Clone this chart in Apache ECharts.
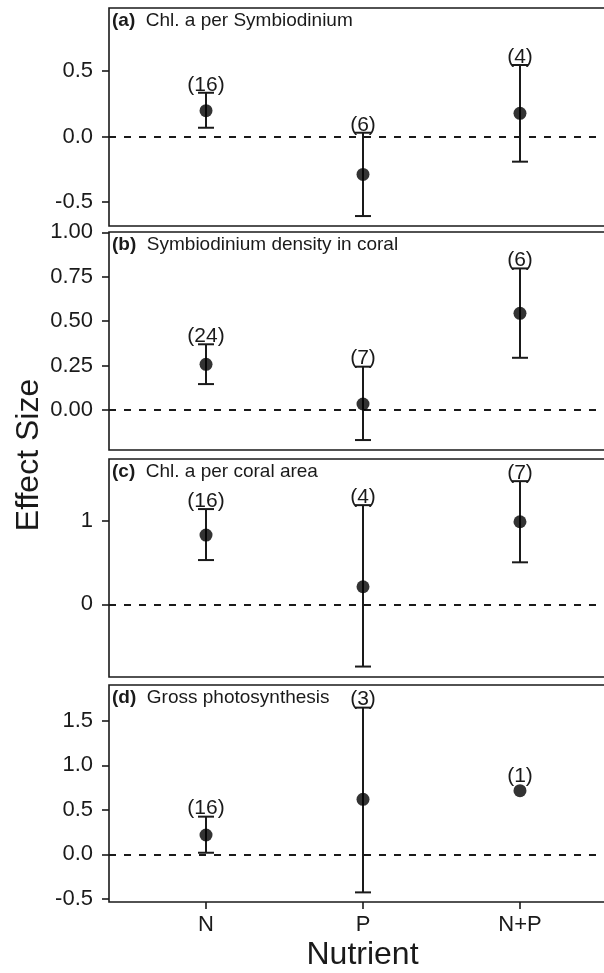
<!DOCTYPE html>
<html>
<head>
<meta charset="utf-8">
<script src="https://cdn.jsdelivr.net/npm/echarts@6/dist/echarts.min.js"></script>
<style>
  html, body { margin: 0; padding: 0; background: #ffffff; }
  #chart { width: 604px; height: 973px; }
</style>
</head>
<body>
<div id="chart"></div>
<script>
// ---------- data ----------
const categories = ['N', 'P', 'N+P'];
const categoryPos = [1, 2, 3];

const panelTags = ['(a)', '(b)', '(c)', '(d)'];
const panelNames = ['Chl. a per Symbiodinium', 'Symbiodinium density in coral', 'Chl. a per coral area', 'Gross photosynthesis'];

const meanA = [0.197, -0.289, 0.177];
const lowA  = [0.067, -0.607, -0.192];
const highA = [0.334, 0.029, 0.546];
const nA    = [16, 6, 4];

const meanB = [0.257, 0.034, 0.544];
const lowB  = [0.146, -0.169, 0.294];
const highB = [0.370, 0.244, 0.797];
const nB    = [24, 7, 6];

const meanC = [0.828, 0.210, 0.987];
const lowC  = [0.529, -0.745, 0.502];
const highC = [1.139, 1.186, 1.473];
const nC    = [16, 4, 7];

const meanD = [0.217, 0.618, 0.715];
const lowD  = [0.018, -0.427, null];
const highD = [0.423, 1.647, null];
const nD    = [16, 3, 1];

const yTicksA = [-0.5, 0, 0.5];
const yTicksB = [0, 0.25, 0.5, 0.75, 1.0];
const yTicksC = [0, 1];
const yTicksD = [-0.5, 0, 0.5, 1.0, 1.5];

// ---------- layout / style ----------
const FONT = '"Liberation Sans", Arial, Helvetica, sans-serif';
const INK = '#1a1a1a';
const gridLeft = 109, gridWidth = 508;
const panels = [
  { top: 8,   height: 218, min: -0.683, max: 0.981, ticks: yTicksA, dec: 1, mean: meanA, low: lowA, high: highA, n: nA },
  { top: 232, height: 218, min: -0.225, max: 1.002, ticks: yTicksB, dec: 2, mean: meanB, low: lowB, high: highB, n: nB },
  { top: 459, height: 218, min: -0.870, max: 1.738, ticks: yTicksC, dec: 0, mean: meanC, low: lowC, high: highC, n: nC },
  { top: 685, height: 217, min: -0.535, max: 1.901, ticks: yTicksD, dec: 1, mean: meanD, low: lowD, high: highD, n: nD }
];

const grid = [], xAxis = [], yAxis = [], series = [], graphic = [];

panels.forEach((p, i) => {
  const last = i === panels.length - 1;
  grid.push({
    left: gridLeft, top: p.top, width: gridWidth, height: p.height,
    outerBoundsMode: 'none', containLabel: false,
    show: true, borderColor: INK, borderWidth: 1.6, backgroundColor: 'transparent'
  });
  xAxis.push({
    type: 'value', gridIndex: i, min: 0.382, max: 3.618, position: 'bottom',
    show: last,
    splitLine: { show: false },
    axisLine: { show: false, onZero: false },
    axisTick: { show: last, customValues: categoryPos, length: 7, lineStyle: { color: INK, width: 1.6 } },
    axisLabel: {
      show: last, customValues: categoryPos, margin: 12,
      formatter: v => categories[Math.round(v) - 1] || '',
      fontFamily: FONT, fontSize: 22, color: INK
    }
  });
  yAxis.push({
    type: 'value', gridIndex: i, min: p.min, max: p.max, position: 'left',
    splitLine: { show: false },
    axisLine: { show: false, onZero: false },
    axisTick: { show: true, customValues: p.ticks, length: 7, lineStyle: { color: INK, width: 1.6 } },
    axisLabel: {
      customValues: p.ticks, margin: 16,
      formatter: v => Number(v).toFixed(p.dec),
      fontFamily: FONT, fontSize: 22, color: INK
    }
  });

  series.push({
    type: 'custom', xAxisIndex: i, yAxisIndex: i, z: 3,
    data: categoryPos.map((x, k) => [x, p.mean[k]]),
    renderItem: function (params, api) {
      const k = params.dataIndex;
      const x = api.value(0), y = api.value(1);
      const lo = p.low[k], hi = p.high[k], n = p.n[k];
      const pt = api.coord([x, y]);
      const children = [];
      let topY = pt[1] - 6.5;
      if (lo != null && hi != null) {
        const pl = api.coord([x, lo]);
        const ph = api.coord([x, hi]);
        const cap = 8;
        const ls = { stroke: INK, lineWidth: 2 };
        children.push({ type: 'line', shape: { x1: pt[0], y1: ph[1], x2: pt[0], y2: pl[1] }, style: ls });
        children.push({ type: 'line', shape: { x1: pt[0] - cap, y1: ph[1], x2: pt[0] + cap, y2: ph[1] }, style: ls });
        children.push({ type: 'line', shape: { x1: pt[0] - cap, y1: pl[1], x2: pt[0] + cap, y2: pl[1] }, style: ls });
        topY = Math.min(topY, ph[1]);
      }
      children.push({
        type: 'text',
        style: { text: '(' + n + ')', x: pt[0], y: topY - 8, align: 'center', verticalAlign: 'middle',
                 font: '21px ' + FONT, fill: INK }
      });
      return { type: 'group', children: children };
    }
  });

  series.push({
    type: 'scatter', xAxisIndex: i, yAxisIndex: i, z: 5,
    symbol: 'circle', symbolSize: 13,
    itemStyle: { color: '#000' },
    data: categoryPos.map((x, k) => [x, p.mean[k]]),
    markLine: {
      silent: true, symbol: 'none', animation: false,
      label: { show: false },
      lineStyle: { color: INK, width: 1.8, type: [7, 8] },
      data: [{ yAxis: 0 }]
    }
  });

  graphic.push({
    type: 'text', x: 112, y: p.top + 12.5,
    style: {
      text: '{b|' + panelTags[i] + '}  ' + panelNames[i],
      font: '19px ' + FONT, fill: INK, verticalAlign: 'middle',
      rich: { b: { fontWeight: 'bold', fontSize: 19, fontFamily: FONT, fill: INK } }
    }
  });
});

graphic.push({
  type: 'text', x: 29, y: 455, rotation: Math.PI / 2,
  style: { text: 'Effect Size', font: '32px ' + FONT, fill: INK, align: 'center', verticalAlign: 'middle' }
});
graphic.push({
  type: 'text', x: 362.5, y: 955,
  style: { text: 'Nutrient', font: '32px ' + FONT, fill: INK, align: 'center', verticalAlign: 'middle' }
});

const chart = echarts.init(document.getElementById('chart'), null, { renderer: 'canvas' });
chart.setOption({
  animation: false,
  backgroundColor: '#ffffff',
  grid: grid, xAxis: xAxis, yAxis: yAxis, series: series, graphic: graphic
});
</script>
</body>
</html>
